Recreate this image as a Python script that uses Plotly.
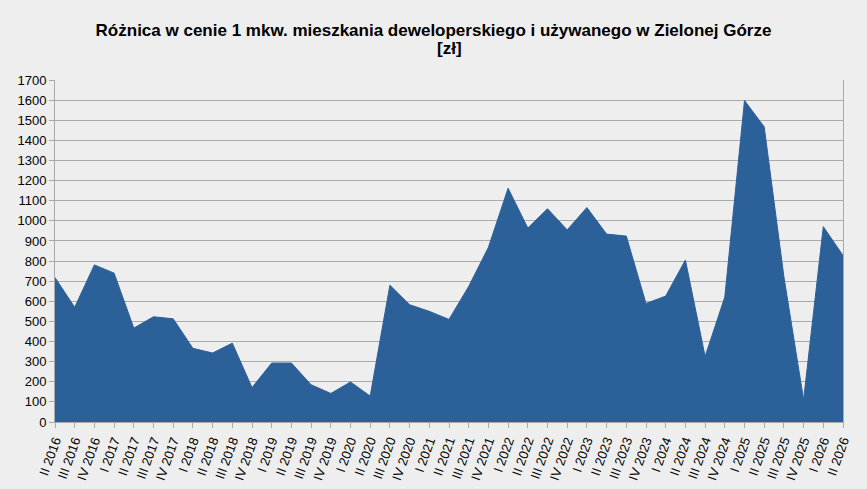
import plotly.graph_objects as go

quarters = ['II 2016', 'III 2016', 'IV 2016',
            'I 2017', 'II 2017', 'III 2017', 'IV 2017',
            'I 2018', 'II 2018', 'III 2018', 'IV 2018',
            'I 2019', 'II 2019', 'III 2019', 'IV 2019',
            'I 2020', 'II 2020', 'III 2020', 'IV 2020',
            'I 2021', 'II 2021', 'III 2021', 'IV 2021',
            'I 2022', 'II 2022', 'III 2022', 'IV 2022',
            'I 2023', 'II 2023', 'III 2023', 'IV 2023',
            'I 2024', 'II 2024', 'III 2024', 'IV 2024',
            'I 2025', 'II 2025', 'III 2025', 'IV 2025',
            'I 2026', 'II 2026']
# difference in price per m2 (zl)
diff = [718, 570, 781, 740,
        467, 523, 513, 366,
        343, 392, 171, 293,
        293, 185, 142, 199,
        129, 680, 583, 550,
        510, 674, 868, 1162,
        964, 1060, 955, 1066,
        934, 924, 589, 626,
        805, 326, 621, 1598,
        1467, 722, 111, 971,
        828]

bg = '#eeeeee'
grid = '#aaaaaa'

fig = go.Figure()
fig.add_trace(go.Scatter(x=quarters, y=diff, mode='lines', fill='tozeroy',
                         fillcolor='#2c6098', line=dict(color='#2c6098', width=1),
                         hoverinfo='x+y'))

fig.update_layout(
    width=867, height=489,
    paper_bgcolor=bg, plot_bgcolor=bg,
    font=dict(family='Arial, Liberation Sans, sans-serif', size=13, color='black'),
    title=dict(text='<b>Różnica w cenie 1 mkw. mieszkania deweloperskiego i używanego w Zielonej Górze</b>',
               x=0.5, xanchor='center', y=0.939, yanchor='middle',
               font=dict(size=17, color='black')),
    margin=dict(l=55, r=24, t=80, b=67),
    showlegend=False,
)
# second title line sits closer than plotly's own line spacing
fig.add_annotation(text='<b>[zł]</b>', xref='paper', yref='paper', x=0.5, y=1.092,
                   xanchor='center', yanchor='middle', showarrow=False,
                   font=dict(size=17, color='black'))
fig.update_xaxes(type='category', range=[0, len(quarters) - 1], tickangle=-70,
                 automargin=False,
                 showgrid=False, showline=True, linecolor=grid, mirror=False,
                 ticks='outside', ticklen=5, tickcolor=grid, tickfont=dict(size=13))
fig.update_yaxes(range=[0, 1700], dtick=100, showgrid=True, gridcolor=grid, gridwidth=1,
                 automargin=False,
                 showline=True, linecolor=grid, mirror=True,
                 ticks='outside', ticklen=5, tickcolor=grid, zeroline=False,
                 tickfont=dict(size=13))

fig.write_html('out.html', config={'displayModeBar': False},
               post_script="document.body.style.margin='0';document.body.style.background='#eeeeee';")
